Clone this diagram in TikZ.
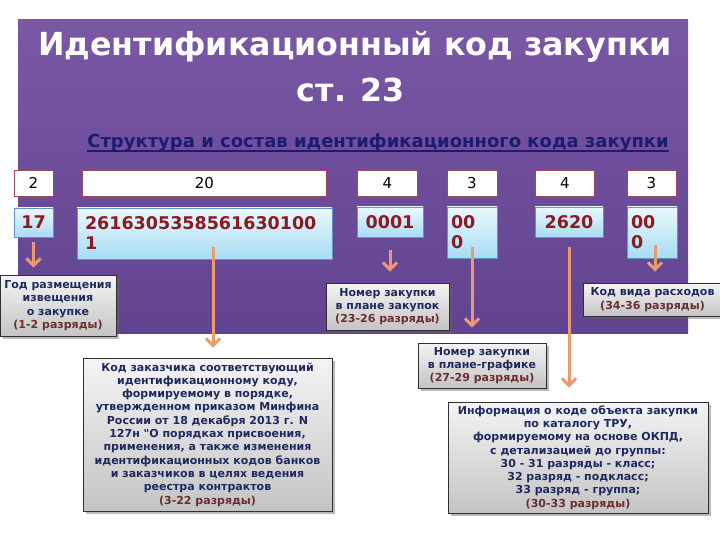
\documentclass[tikz,border=0pt]{standalone}
\usepackage{fontspec}
\setmainfont{DejaVu Sans}[Ligatures=TeXOff]
\usetikzlibrary{arrows.meta,shadows}
\definecolor{purpT}{HTML}{7A58A6}
\definecolor{purpB}{HTML}{614390}
\definecolor{subnavy}{HTML}{1C1C6E}
\definecolor{topborder}{HTML}{9A4A5A}
\definecolor{codered}{HTML}{8C1A22}
\definecolor{blueT}{HTML}{EAF8FE}
\definecolor{blueB}{HTML}{A8DCF2}
\definecolor{blueborder}{HTML}{5F95C6}
\definecolor{grayT}{HTML}{F4F4F4}
\definecolor{grayB}{HTML}{C4C4C4}
\definecolor{lblborder}{HTML}{303030}
\definecolor{lblnavy}{HTML}{1E2A5E}
\definecolor{lblred}{HTML}{6B2E2E}
\definecolor{arrC}{HTML}{EA9A6E}
\tikzset{
  topbox/.style={draw=topborder, fill=white, line width=0.8pt, minimum height=26pt, inner sep=0pt, font=\fontsize{15}{18}\selectfont, text=black},
  codebox/.style={draw=blueborder, line width=0.9pt, top color=blueT, bottom color=blueB, font=\bfseries\fontsize{17.5}{20}\selectfont, text=codered, inner xsep=0pt, inner ysep=0pt},
  lbl/.style={draw=lblborder, line width=0.9pt, top color=grayT, bottom color=grayB, drop shadow={shadow xshift=2.5pt, shadow yshift=-2.5pt, opacity=0.45, fill=black!60}, align=center, text=lblnavy, font=\bfseries\fontsize{11}{13.3}\selectfont, inner sep=0pt},
  arr/.style={draw=arrC, line width=3pt, -{Straight Barb[length=7pt,width=14pt]}}
}
\begin{document}
\begin{tikzpicture}[x=1pt,y=-1pt]
\useasboundingbox (0,0) rectangle (720,540);
\fill[white] (0,0) rectangle (720,540);
\shade[top color=purpT, bottom color=purpB] (18,20) rectangle (688,333);

% title
\node[font=\bfseries\fontsize{31.7}{37}\selectfont, text=white, anchor=base, inner sep=0pt] (title) at (355,56) {Идентификационный код закупки};
\node[font=\bfseries\fontsize{31.7}{37}\selectfont, text=white, anchor=base, inner sep=0pt] (title2) at (351,102) {ст. 23};
\node[font=\bfseries\fontsize{18}{21}\selectfont, text=subnavy, anchor=base, inner sep=0pt] (sub) at (378,148) {Структура и состав идентификационного кода закупки};
\draw[subnavy, line width=1.2pt] ([yshift=-3pt]sub.base west) -- ([yshift=-3pt]sub.base east);

% top boxes
\node[topbox, minimum width=39pt] (t1) at (33.5,183) {2};
\node[topbox, minimum width=244pt] (t2) at (204.5,183) {20};
\node[topbox, minimum width=60pt] (t3) at (387.5,183) {4};
\node[topbox, minimum width=50pt] (t4) at (472,183) {3};
\node[topbox, minimum width=59pt] (t5) at (565,183) {4};
\node[topbox, minimum width=49pt] (t6) at (651.5,183) {3};

% code boxes
\node[codebox, minimum width=39pt, minimum height=29pt] (b1) at (33.5,222.5) {17};
\node[codebox, text width=239pt, inner xsep=8pt, align=left, minimum height=51pt] (b2) at (204.5,233.5) {2616305358561630100\\1};
\node[codebox, minimum width=66pt, minimum height=30pt] (b3) at (390,222) {0001};
\node[codebox, text width=42pt, inner xsep=4pt, align=left, minimum height=51pt] (b4) at (472,232.5) {00\\0};
\node[codebox, minimum width=68pt, minimum height=30pt] (b5) at (569,222) {2620};
\node[codebox, text width=42pt, inner xsep=4pt, align=left, minimum height=51pt] (b6) at (652,232.5) {00\\0};

% label boxes
\node[lbl, minimum width=116pt, minimum height=61pt] (l1) at (58,305.5) {Год размещения\\извещения\\о закупке\\\textcolor{lblred}{(1-2 разряды)}};
\node[lbl, minimum width=249pt, minimum height=153pt] (l2) at (207.5,434.5) {Код заказчика соответствующий\\идентификационному коду,\\формируемому в порядке,\\утвержденном приказом Минфина\\России от 18 декабря 2013 г. N\\127н "О порядках присвоения,\\применения, а также изменения\\идентификационных кодов банков\\и заказчиков в целях ведения\\реестра контрактов\\\textcolor{lblred}{(3-22 разряды)}};
\node[lbl, minimum width=123pt, minimum height=47pt] (l3) at (387.5,306.5) {Номер закупки\\в плане закупок\\\textcolor{lblred}{(23-26 разряды)}};
\node[lbl, minimum width=128pt, minimum height=45pt] (l4) at (482,365.5) {Номер закупки\\в плане-графике\\\textcolor{lblred}{(27-29 разряды)}};
\node[lbl, minimum width=260pt, minimum height=111pt] (l5) at (578,457.5) {Информация о коде объекта закупки\\по каталогу ТРУ,\\формируемому на основе ОКПД,\\с детализацией до группы:\\30 - 31 разряды - класс;\\32 разряд - подкласс;\\33 разряд - группа;\\\textcolor{lblred}{(30-33 разряды)}};
\node[lbl, minimum width=139pt, minimum height=33pt] (l6) at (652.5,299.5) {Код вида расходов\\\textcolor{lblred}{(34-36 разряды)}};

% arrows
\coordinate (s2) at (213,247);
\coordinate (s4) at (472,247);
\coordinate (s6) at (655,245);
\draw[arr, shorten <=5pt, shorten >=7pt] (b1.south) -- (b1.south |- l1.north);
\draw[arr, shorten >=10pt] (s2) -- (s2 |- l2.north);
\draw[arr, shorten <=13pt, shorten >=11pt] (b3.south) -- (b3.south |- l3.north);
\draw[arr, shorten >=15pt] (s4) -- (s4 |- l4.north);
\draw[arr, shorten <=10pt, shorten >=14pt] (b5.south) -- (b5.south |- l5.north);
\draw[arr, shorten >=11pt] (s6) -- (s6 |- l6.north);
\end{tikzpicture}
\end{document}
